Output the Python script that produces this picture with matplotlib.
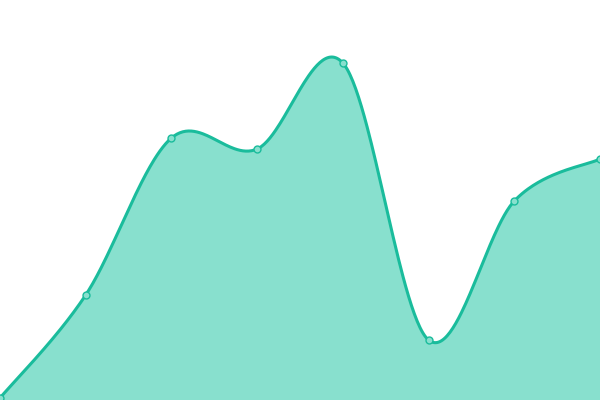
import numpy as np
import matplotlib
matplotlib.use("Agg")
import matplotlib.pyplot as plt

categories = ["A", "B", "C", "D", "E", "F", "G", "H"]
values = [2, 105, 262, 251, 337, 60, 199, 241]

LINE = "#1abc9c"
FILL = "#88e0ce"


def catmull_rom(x, y, n=60):
    x = np.asarray(x, float)
    y = np.asarray(y, float)
    px = np.concatenate([[x[0]], x, [x[-1]]])
    py = np.concatenate([[y[0]], y, [y[-1]]])
    xs, ys = [], []
    for i in range(1, len(px) - 2):
        t = np.linspace(0, 1, n, endpoint=(i == len(px) - 3))
        p0, p1, p2, p3 = py[i - 1], py[i], py[i + 1], py[i + 2]
        q0, q1, q2, q3 = px[i - 1], px[i], px[i + 1], px[i + 2]
        def cr(a0, a1, a2, a3):
            m1 = (a2 - a0) / 2
            m2 = (a3 - a1) / 2
            h00 = 2 * t**3 - 3 * t**2 + 1
            h10 = t**3 - 2 * t**2 + t
            h01 = -2 * t**3 + 3 * t**2
            h11 = t**3 - t**2
            return h00 * a1 + h10 * m1 + h01 * a2 + h11 * m2
        xs.append(cr(q0, q1, q2, q3))
        ys.append(cr(p0, p1, p2, p3))
    return np.concatenate(xs), np.concatenate(ys)


x = np.arange(len(categories))
sx, sy = catmull_rom(x, values)

fig = plt.figure(figsize=(6, 4), dpi=100)
ax = fig.add_axes([0, 0, 1, 1])
ax.fill_between(sx, sy, 0, color=FILL, lw=0)
ax.plot(sx, sy, color=LINE, lw=2.2, solid_capstyle="round")
ax.plot(x, values, "o", ms=5, mfc=FILL, mec=LINE, mew=1)
ax.set_xlim(0, len(categories) - 1)
ax.set_ylim(0, 400)
ax.axis("off")
fig.savefig("out.png", dpi=100)
